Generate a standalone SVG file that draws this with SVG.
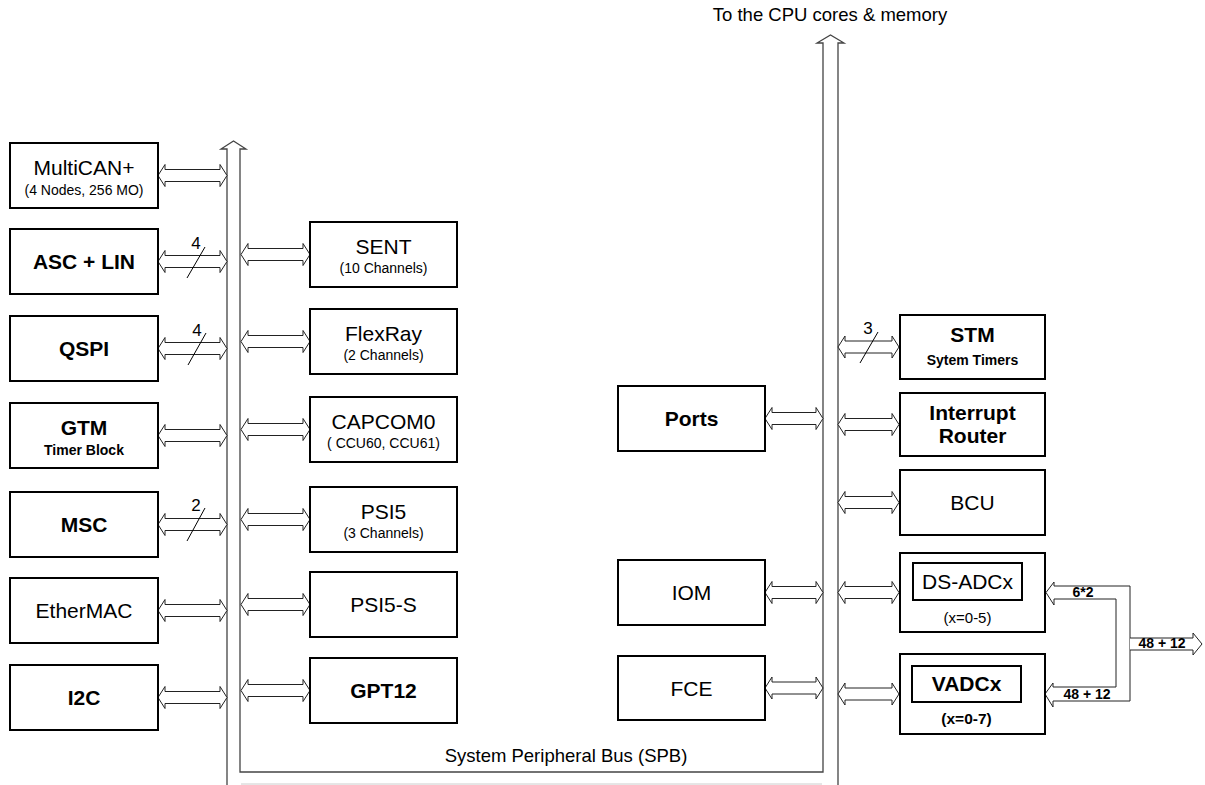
<svg xmlns="http://www.w3.org/2000/svg" width="1205" height="785" viewBox="0 0 1205 785">
<style>
text{font-family:"Liberation Sans",Arial,sans-serif;fill:#000}
.t{font-size:21px;text-anchor:middle}
.s{font-size:14px;text-anchor:middle}
.b{font-weight:bold}
.box{fill:#fff;stroke:#000;stroke-width:2}
.arr{fill:#fff;stroke:#222;stroke-width:1;stroke-linejoin:miter}
.bus{fill:none;stroke:#444;stroke-width:1.3}
.sl{stroke:#000;stroke-width:1}
.n{font-size:17px;text-anchor:middle}
</style>
<rect width="1205" height="785" fill="#fff"/>
<text x="830" y="21" style="font-size:18.5px;text-anchor:middle">To the CPU cores &amp; memory</text>
<g id="connectors">
<path class="bus" d="M227,785 L227,149 L221,149 L233.5,141 L246,149 L240,149 L240,772 L823,772 L823,43 L817,43 L830.5,35 L844,43 L838,43 L838,785"/>
<line x1="241" y1="784" x2="822" y2="784" stroke="#ccc" stroke-width="1"/>
<text x="566" y="762" style="font-size:18.5px;text-anchor:middle">System Peripheral Bus (SPB)</text>
<path class="arr" d="M158,175.5 l7,-11 v5 h55 v-5 l7,11 l-7,11 v-5 h-55 v5 z"/>
<path class="arr" d="M158,261.5 l7,-11 v5 h55 v-5 l7,11 l-7,11 v-5 h-55 v5 z"/>
<path class="arr" d="M158,348.5 l7,-11 v5 h55 v-5 l7,11 l-7,11 v-5 h-55 v5 z"/>
<path class="arr" d="M158,435.5 l7,-11 v5 h55 v-5 l7,11 l-7,11 v-5 h-55 v5 z"/>
<path class="arr" d="M158,524.5 l7,-11 v5 h55 v-5 l7,11 l-7,11 v-5 h-55 v5 z"/>
<path class="arr" d="M158,610.5 l7,-11 v5 h55 v-5 l7,11 l-7,11 v-5 h-55 v5 z"/>
<path class="arr" d="M158,697.5 l7,-11 v5 h55 v-5 l7,11 l-7,11 v-5 h-55 v5 z"/>
<path class="arr" d="M241,254.5 l7,-11 v5 h55 v-5 l7,11 l-7,11 v-5 h-55 v5 z"/>
<path class="arr" d="M241,341.5 l7,-11 v5 h55 v-5 l7,11 l-7,11 v-5 h-55 v5 z"/>
<path class="arr" d="M241,429.5 l7,-11 v5 h55 v-5 l7,11 l-7,11 v-5 h-55 v5 z"/>
<path class="arr" d="M241,519.5 l7,-11 v5 h55 v-5 l7,11 l-7,11 v-5 h-55 v5 z"/>
<path class="arr" d="M241,604.5 l7,-11 v5 h55 v-5 l7,11 l-7,11 v-5 h-55 v5 z"/>
<path class="arr" d="M241,690.5 l7,-11 v5 h55 v-5 l7,11 l-7,11 v-5 h-55 v5 z"/>
<path class="arr" d="M765,418.5 l7,-11 v5 h44 v-5 l7,11 l-7,11 v-5 h-44 v5 z"/>
<path class="arr" d="M765,592.5 l7,-11 v5 h44 v-5 l7,11 l-7,11 v-5 h-44 v5 z"/>
<path class="arr" d="M765,688 l7,-11 v5 h44 v-5 l7,11 l-7,11 v-5 h-44 v5 z"/>
<path class="arr" d="M838,347 l7,-11 v5 h47 v-5 l7,11 l-7,11 v-5 h-47 v5 z"/>
<path class="arr" d="M838,424.5 l7,-11 v5 h47 v-5 l7,11 l-7,11 v-5 h-47 v5 z"/>
<path class="arr" d="M838,502.5 l7,-11 v5 h47 v-5 l7,11 l-7,11 v-5 h-47 v5 z"/>
<path class="arr" d="M838,592.5 l7,-11 v5 h47 v-5 l7,11 l-7,11 v-5 h-47 v5 z"/>
<path class="arr" d="M838,694 l7,-11 v5 h47 v-5 l7,11 l-7,11 v-5 h-47 v5 z"/>
<line class="sl" x1="187" y1="278" x2="205" y2="247"/>
<text class="n" x="196" y="249">4</text>
<line class="sl" x1="188" y1="365" x2="206" y2="333"/>
<text class="n" x="197" y="336">4</text>
<line class="sl" x1="187" y1="541" x2="205" y2="508"/>
<text class="n" x="196" y="511">2</text>
<line class="sl" x1="860" y1="363" x2="878" y2="332"/>
<text class="n" x="868" y="334">3</text>
<path class="arr" stroke="#444" d="M1130,586 L1054,586 L1054,582 L1046,592.5 L1054,605 L1054,599 L1116,599 L1116,687 L1053,687 L1053,683 L1045,694 L1053,707 L1053,701 L1130,701 Z"/>
<path class="arr" stroke="#444" d="M1130,638 L1193,638 L1193,633 L1202,644 L1193,655 L1193,650 L1130,650"/>
<text class="s b" x="1083" y="597">6*2</text>
<text class="s b" x="1087" y="699">48 + 12</text>
<text class="s b" x="1162" y="648">48 + 12</text>
</g>
<g id="multican"><rect class="box" x="10" y="143" width="148" height="65"/><text class="t" x="84" y="175">MultiCAN+</text><text class="s" x="84" y="195">(4 Nodes, 256 MO)</text></g>
<g id="asclin"><rect class="box" x="10" y="229" width="148" height="65"/><text class="t b" x="84" y="269">ASC + LIN</text></g>
<g id="qspi"><rect class="box" x="10" y="316" width="148" height="65"/><text class="t b" x="84" y="356">QSPI</text></g>
<g id="gtm"><rect class="box" x="10" y="403" width="148" height="65"/><text class="t b" x="84" y="435">GTM</text><text class="s b" x="84" y="455">Timer Block</text></g>
<g id="msc"><rect class="box" x="10" y="492" width="148" height="65"/><text class="t b" x="84" y="532">MSC</text></g>
<g id="ethermac"><rect class="box" x="10" y="578" width="148" height="65"/><text class="t" x="84" y="618">EtherMAC</text></g>
<g id="i2c"><rect class="box" x="10" y="665" width="148" height="65"/><text class="t b" x="84" y="705">I2C</text></g>
<g id="sent"><rect class="box" x="310" y="222" width="147" height="65"/><text class="t" x="383.5" y="254">SENT</text><text class="s" x="383.5" y="273">(10 Channels)</text></g>
<g id="flexray"><rect class="box" x="310" y="309" width="147" height="65"/><text class="t" x="383.5" y="341">FlexRay</text><text class="s" x="383.5" y="360">(2 Channels)</text></g>
<g id="capcom0"><rect class="box" x="310" y="397" width="147" height="65"/><text class="t" x="383.5" y="429">CAPCOM0</text><text class="s" x="383.5" y="448">( CCU60, CCU61)</text></g>
<g id="psi5"><rect class="box" x="310" y="487" width="147" height="65"/><text class="t" x="383.5" y="519">PSI5</text><text class="s" x="383.5" y="538">(3 Channels)</text></g>
<g id="psi5s"><rect class="box" x="310" y="572" width="147" height="65"/><text class="t" x="383.5" y="612">PSI5-S</text></g>
<g id="gpt12"><rect class="box" x="310" y="658" width="147" height="65"/><text class="t b" x="383.5" y="698">GPT12</text></g>
<g id="ports"><rect class="box" x="618" y="386" width="147" height="65"/><text class="t b" x="691.5" y="426">Ports</text></g>
<g id="iom"><rect class="box" x="618" y="560" width="147" height="65"/><text class="t" x="691.5" y="600">IOM</text></g>
<g id="fce"><rect class="box" x="618" y="656" width="147" height="64"/><text class="t" x="691.5" y="695.5">FCE</text></g>
<g id="stm"><rect class="box" x="900" y="315" width="145" height="64"/><text class="t b" x="972.5" y="342">STM</text><text class="s b" x="972.5" y="365">Sytem Timers</text></g>
<g id="irouter"><rect class="box" x="900" y="393" width="145" height="63"/><text class="t b" x="972.5" y="420">Interrupt</text><text class="t b" x="972.5" y="443">Router</text></g>
<g id="bcu"><rect class="box" x="900" y="470" width="145" height="65"/><text class="t" x="972.5" y="510">BCU</text></g>
<g id="dsadc"><rect class="box" x="900" y="553" width="145" height="79"/><rect class="box" x="913" y="563" width="109" height="37"/><text class="t" x="967.5" y="589">DS-ADCx</text><text x="967.5" y="623" style="font-size:15px;text-anchor:middle">(x=0-5)</text></g>
<g id="vadc"><rect class="box" x="900" y="654" width="145" height="80"/><rect class="box" x="912" y="666" width="109" height="36"/><text class="t b" x="966.5" y="691">VADCx</text><text class="b" x="966.5" y="724" style="font-size:15.5px;text-anchor:middle">(x=0-7)</text></g>
</svg>
